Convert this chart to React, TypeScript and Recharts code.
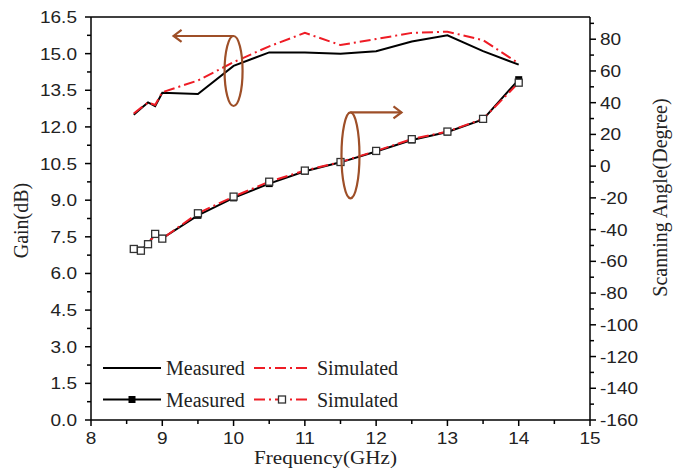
import { ComposedChart, Line, XAxis, YAxis, ReferenceDot, ReferenceLine } from 'recharts';

// frequency points shared by all four curves (GHz)
const FREQ = [8.6, 8.7, 8.8, 8.9, 9.0, 9.5, 10, 10.5, 11, 11.5, 12, 12.5, 13, 13.5, 14];

// gain (dB), left axis
const GAIN_MEASURED = [12.5, 12.75, 13.0, 12.85, 13.4, 13.35, 14.5, 15.05, 15.05, 15.0, 15.1, 15.5, 15.75, 15.1, 14.55];
const GAIN_SIMULATED = [12.55, 12.78, 13.0, 12.9, 13.42, 13.9, 14.65, 15.3, 15.85, 15.35, 15.6, 15.85, 15.9, 15.55, 14.6];

// scanning angle (degree), right axis
const ANGLE_MEASURED = [-52, -53, -49, -42.5, -45.5, -31, -20, -11, -3.2, 2.4, 9.2, 16.5, 21.5, 29.5, 54.5];
const ANGLE_SIMULATED = [-52.2, -53.3, -49.2, -42.7, -45.7, -29.7, -19.2, -9.8, -2.8, 2.6, 9.6, 17.0, 21.8, 29.8, 52.6];

const FREQ_TICKS = [8, 8.5, 9, 9.5, 10, 10.5, 11, 11.5, 12, 12.5, 13, 13.5, 14, 14.5, 15];
const GAIN_TICKS = [
  0, 0.75, 1.5, 2.25, 3, 3.75, 4.5, 5.25, 6, 6.75, 7.5, 8.25, 9, 9.75, 10.5, 11.25, 12, 12.75, 13.5,
  14.25, 15, 15.75, 16.5,
];
const ANGLE_TICKS = [
  -160, -150, -140, -130, -120, -110, -100, -90, -80, -70, -60, -50, -40, -30, -20, -10, 0, 10, 20, 30,
  40, 50, 60, 70, 80, 90,
];

const rows = FREQ.map((f, i) => ({
  freq: f,
  gainMeas: GAIN_MEASURED[i],
  gainSim: GAIN_SIMULATED[i],
  angleMeas: ANGLE_MEASURED[i],
  angleSim: ANGLE_SIMULATED[i],
}));

const RED = '#ee1c25';
const BROWN = '#9e4f28';
const DASH_DOT = '11 4 2 4';
const SANS = '"Liberation Sans", Arial, sans-serif';
const SERIF = '"Liberation Serif", "Times New Roman", serif';

const tickText = { fontFamily: SANS, fontSize: 17, fill: '#222' };
const titleText = { fontFamily: SERIF, fontSize: 20, fill: '#222' };

const BottomTick = ({ x, y, payload }: any) => {
  const v = payload.value;
  const major = Number.isInteger(v);
  return (
    <g>
      <line x1={x} x2={x} y1={y} y2={y + (major ? 6 : 4)} stroke="#000" strokeWidth={1.5} />
      {major && (
        <text transform={`translate(${x},${y + 24}) scale(1.12,1)`} textAnchor="middle" {...tickText}>
          {v}
        </text>
      )}
    </g>
  );
};

const LeftTick = ({ x, y, payload }: any) => {
  const v = payload.value;
  const major = v % 1.5 === 0;
  return (
    <g>
      <line x1={x} x2={x - (major ? 6 : 4)} y1={y} y2={y} stroke="#000" strokeWidth={1.5} />
      {major && (
        <text transform={`translate(${x - 14},${y + 6}) scale(1.12,1)`} textAnchor="end" {...tickText}>
          {v.toFixed(1)}
        </text>
      )}
    </g>
  );
};

const RightTick = ({ x, y, payload }: any) => {
  const v = payload.value;
  const major = v % 20 === 0;
  return (
    <g>
      <line x1={x} x2={x + (major ? 6 : 4)} y1={y} y2={y} stroke="#000" strokeWidth={1.5} />
      {major && (
        <text transform={`translate(${x + 10},${y + 6}) scale(1.12,1)`} textAnchor="start" {...tickText}>
          {v}
        </text>
      )}
    </g>
  );
};

const FilledSquare = (p: any) => (
  <rect key={`fs-${p.index}`} x={p.cx - 3.5} y={p.cy - 3.5} width={7} height={7} fill="#000" />
);

const OpenSquare = (p: any) => (
  <rect key={`os-${p.index}`} x={p.cx - 3.5} y={p.cy - 3.5} width={7} height={7} fill="#fff" stroke="#333" strokeWidth={1.3} />
);

// ellipse around a curve with a horizontal arrow pointing at its axis
const Callout = ({ cx, cy, rx, ry, dir, len }: any) => {
  const top = cy - ry;
  const end = cx + dir * len;
  return (
    <g fill="none" stroke={BROWN} strokeWidth={2.2}>
      <ellipse cx={cx} cy={cy} rx={rx} ry={ry} />
      <line x1={cx} y1={top} x2={end} y2={top} />
      <polyline points={`${end - dir * 8},${top - 6} ${end},${top} ${end - dir * 8},${top + 6}`} />
    </g>
  );
};

const Legend = () => (
  <svg width={677} height={473} style={{ position: 'absolute', left: 0, top: 0, pointerEvents: 'none' }}>
    <line x1={103} x2={161} y1={368} y2={368} stroke="#000" strokeWidth={2} />
    <text x={166} y={375} {...titleText}>Measured</text>
    <line x1={254} x2={308} y1={368} y2={368} stroke={RED} strokeWidth={2} strokeDasharray={DASH_DOT} />
    <text x={317} y={375} {...titleText}>Simulated</text>

    <line x1={103} x2={161} y1={399.5} y2={399.5} stroke="#000" strokeWidth={2} />
    <rect x={128.5} y={396} width={7} height={7} fill="#000" />
    <text x={166} y={406.5} {...titleText}>Measured</text>
    <line x1={254} x2={308} y1={399.5} y2={399.5} stroke={RED} strokeWidth={2} strokeDasharray={DASH_DOT} />
    <rect x={278.5} y={396} width={7} height={7} fill="#fff" stroke="#333" strokeWidth={1.3} />
    <text x={317} y={406.5} {...titleText}>Simulated</text>
  </svg>
);

export default function App() {
  return (
    <div style={{ position: 'absolute', left: 0, top: 0, width: 677, height: 473, background: '#fff' }}>
      <ComposedChart width={677} height={473} data={rows} margin={{ top: 17, right: 0, bottom: 0, left: 0 }}>
        <XAxis
          dataKey="freq"
          type="number"
          domain={[8, 15]}
          ticks={FREQ_TICKS}
          interval={0}
          height={53}
          tickSize={0}
          tickMargin={0}
          tickLine={false}
          tick={<BottomTick />}
          axisLine={{ stroke: '#000', strokeWidth: 1.5 }}
          label={{
            content: ({ viewBox }: any) => (
              <text
                x={viewBox.x + viewBox.width / 2 - 15}
                y={viewBox.y + 44}
                textAnchor="middle"
                textLength={143}
                lengthAdjust="spacingAndGlyphs"
                {...titleText}
                fontSize={19}
              >
                Frequency(GHz)
              </text>
            ),
          }}
        />
        <YAxis
          yAxisId="gain"
          orientation="left"
          domain={[0, 16.5]}
          ticks={GAIN_TICKS}
          interval={0}
          width={91}
          tickSize={0}
          tickMargin={0}
          tickLine={false}
          tick={<LeftTick />}
          axisLine={{ stroke: '#000', strokeWidth: 1.5 }}
          label={{
            content: ({ viewBox }: any) => {
              const cx = 21;
              const cy = viewBox.y + viewBox.height / 2 + 2;
              return (
                <text transform={`translate(${cx},${cy}) rotate(-90)`} textAnchor="middle" dominantBaseline="central" {...titleText}>
                  Gain(dB)
                </text>
              );
            },
          }}
        />
        <YAxis
          yAxisId="angle"
          orientation="right"
          domain={[-160, 94]}
          ticks={ANGLE_TICKS}
          interval={0}
          width={87}
          tickSize={0}
          tickMargin={0}
          tickLine={false}
          tick={<RightTick />}
          axisLine={{ stroke: '#000', strokeWidth: 1.5 }}
          label={{
            content: ({ viewBox }: any) => {
              const cx = viewBox.x + 70;
              const cy = viewBox.y + viewBox.height / 2 - 21;
              return (
                <text transform={`translate(${cx},${cy}) rotate(-90)`} textAnchor="middle" dominantBaseline="central" {...titleText}>
                  Scanning Angle(Degree)
                </text>
              );
            },
          }}
        />
        <ReferenceLine yAxisId="gain" y={16.5} stroke="#000" strokeWidth={1.5} />

        <Line yAxisId="gain" dataKey="gainMeas" stroke="#000" strokeWidth={2} dot={false} isAnimationActive={false} />
        <Line yAxisId="gain" dataKey="gainSim" stroke={RED} strokeWidth={2} strokeDasharray={DASH_DOT} dot={false} isAnimationActive={false} />
        <Line yAxisId="angle" dataKey="angleMeas" stroke="#000" strokeWidth={2} dot={FilledSquare} isAnimationActive={false} />
        <Line yAxisId="angle" dataKey="angleSim" stroke={RED} strokeWidth={2} strokeDasharray={DASH_DOT} dot={OpenSquare} isAnimationActive={false} />

        <ReferenceDot yAxisId="gain" x={10} y={14.29} shape={(p: any) => <Callout {...p} rx={9} ry={35} dir={-1} len={60} />} />
        <ReferenceDot yAxisId="angle" x={11.64} y={6.75} shape={(p: any) => <Callout {...p} rx={9} ry={43} dir={1} len={51} />} />
      </ComposedChart>
      <Legend />
    </div>
  );
}
